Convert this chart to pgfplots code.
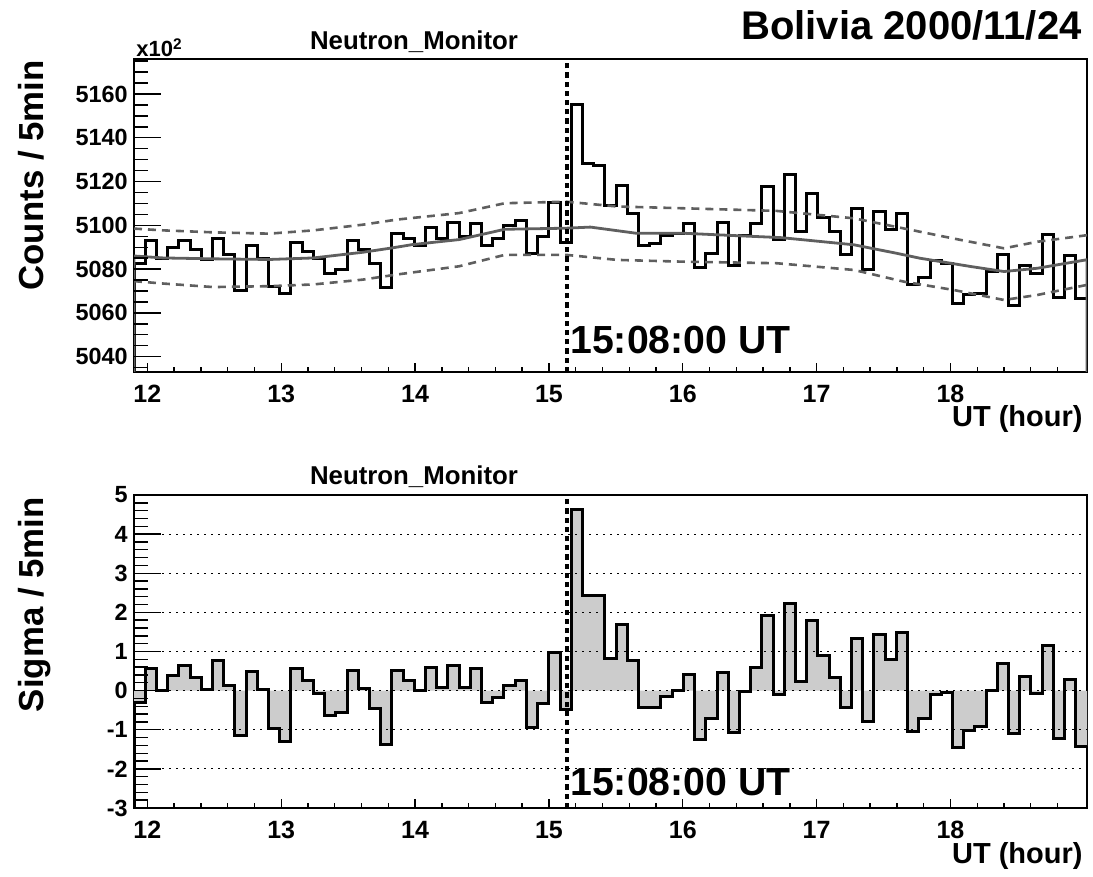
\documentclass[border=0pt]{standalone}
\usepackage{pgfplots}
\pgfplotsset{compat=1.18}
\usepackage{pgfplotstable}
\usepackage{fontspec}
\setmainfont{Liberation Sans}
\definecolor{meangray}{RGB}{95,95,95}
\definecolor{fillgray}{RGB}{204,204,204}
\newcommand\fs[1]{\fontsize{#1}{#1}\selectfont\bfseries}
\def\bw{0.083765}

\pgfplotstableread{
k v
0 5033
0 5082.4
1 5093.2
2 5084.8
3 5089.7
4 5093.2
5 5088.9
6 5084.4
7 5094.2
8 5086.6
9 5070.2
10 5090.7
11 5084.8
12 5072.2
13 5068.9
14 5092.0
15 5088.2
16 5084.8
17 5077.8
18 5079.8
19 5093.0
20 5088.9
21 5082.4
22 5071.5
23 5096.1
24 5093.9
25 5090.7
26 5099.1
27 5093.8
28 5101.2
29 5094.9
30 5101.0
31 5090.6
32 5093.8
33 5099.9
34 5102.2
35 5087.2
36 5094.9
37 5110.5
38 5092.1
39 5155.3
40 5128.3
41 5127.3
42 5109.0
43 5118.4
44 5105.5
45 5090.7
46 5091.5
47 5095.3
48 5096.1
49 5101.0
50 5080.9
51 5087.2
52 5101.2
53 5081.5
54 5095.3
55 5101.0
56 5117.8
57 5093.6
58 5123.0
59 5097.1
60 5114.6
61 5103.5
62 5097.1
63 5086.5
64 5107.8
65 5079.9
66 5106.3
67 5097.9
68 5105.2
69 5072.8
70 5076.3
71 5083.9
72 5082.4
73 5064.4
74 5068.6
75 5069.0
76 5078.9
77 5086.5
78 5063.3
79 5081.8
80 5078.0
81 5096.0
82 5067.2
83 5086.1
84 5066.7
85 5066.7
85 5033
}\topdata

\pgfplotstableread{
k v
0 0
0 -0.30
1 0.56
2 0.00
3 0.39
4 0.65
5 0.33
6 0.02
7 0.78
8 0.14
9 -1.14
10 0.48
11 0.03
12 -0.97
13 -1.31
14 0.57
15 0.25
16 -0.07
17 -0.63
18 -0.56
19 0.52
20 0.06
21 -0.46
22 -1.38
23 0.52
24 0.25
25 0.00
26 0.59
27 0.09
28 0.65
29 0.09
30 0.57
31 -0.31
32 -0.18
33 0.14
34 0.27
35 -0.94
36 -0.32
37 0.98
38 -0.47
39 4.63
40 2.43
41 2.42
42 0.82
43 1.70
44 0.78
45 -0.44
46 -0.43
47 -0.14
48 0.01
49 0.41
50 -1.25
51 -0.71
52 0.47
53 -1.06
54 -0.03
55 0.60
56 1.92
57 -0.10
58 2.23
59 0.23
60 1.80
61 0.89
62 0.33
63 -0.43
64 1.34
65 -0.79
66 1.44
67 0.79
68 1.49
69 -1.05
70 -0.71
71 -0.10
72 -0.05
73 -1.45
74 -1.01
75 -0.91
76 0.00
77 0.70
78 -1.10
79 0.36
80 -0.08
81 1.15
82 -1.23
83 0.29
84 -1.42
85 -1.42
85 0
}\sigfill

\pgfplotstableread{
k v
0 -3
0 -0.30
1 0.56
2 0.00
3 0.39
4 0.65
5 0.33
6 0.02
7 0.78
8 0.14
9 -1.14
10 0.48
11 0.03
12 -0.97
13 -1.31
14 0.57
15 0.25
16 -0.07
17 -0.63
18 -0.56
19 0.52
20 0.06
21 -0.46
22 -1.38
23 0.52
24 0.25
25 0.00
26 0.59
27 0.09
28 0.65
29 0.09
30 0.57
31 -0.31
32 -0.18
33 0.14
34 0.27
35 -0.94
36 -0.32
37 0.98
38 -0.47
39 4.63
40 2.43
41 2.42
42 0.82
43 1.70
44 0.78
45 -0.44
46 -0.43
47 -0.14
48 0.01
49 0.41
50 -1.25
51 -0.71
52 0.47
53 -1.06
54 -0.03
55 0.60
56 1.92
57 -0.10
58 2.23
59 0.23
60 1.80
61 0.89
62 0.33
63 -0.43
64 1.34
65 -0.79
66 1.44
67 0.79
68 1.49
69 -1.05
70 -0.71
71 -0.10
72 -0.05
73 -1.45
74 -1.01
75 -0.91
76 0.00
77 0.70
78 -1.10
79 0.36
80 -0.08
81 1.15
82 -1.23
83 0.29
84 -1.42
85 -1.42
85 -3
}\sigline

\pgfplotsset{
  rootbase/.style={
    scale only axis, width=476.5pt, height=156.5pt,
    xmin=11.9, xmax=19.02,
    tick align=inside, xtick pos=left, ytick pos=left,
    every tick/.style={black, line width=0.7pt},
  },
  rootx/.style={
    rootbase,
    axis line style={line width=0.7pt},
    xtick={12,13,14,15,16,17,18},
    xticklabels={12,13,14,15,16,17,18},
    minor xtick={12.2,12.4,12.6,12.8,13.2,13.4,13.6,13.8,14.2,14.4,14.6,14.8,15.2,15.4,15.6,15.8,16.2,16.4,16.6,16.8,17.2,17.4,17.6,17.8,18.2,18.4,18.6,18.8},
    major tick length=4.5pt, minor tick length=2.3pt,
    xticklabel style={font=\fs{12.5}, anchor=base, yshift=-15.5pt, inner sep=0pt},
    ytick=\empty,
  },
  rooty/.style={
    rootbase,
    axis line style={draw=none},
    xtick=\empty,
    major tick length=13.5pt, minor tick length=6.8pt,
    yticklabel style={font=\fs{11.7}, anchor=east, xshift=-3pt, inner sep=0pt},
  },
  hist/.style={const plot mark left, black, line width=1.5pt, mark=none},
  marker/.style={black, line width=2pt, dash pattern=on 2.6pt off 2pt},
}

\begin{document}
\begin{tikzpicture}[x=1pt,y=1pt]
\path[use as bounding box] (0,0) rectangle (546.5,438.5);

% ---------- top panel ----------
\begin{axis}[rootx, at={(67pt,252.5pt)}, anchor=south west,
  ymin=5033, ymax=5176,
]
\addplot[hist] table[x expr=11.9+\thisrow{k}*\bw, y=v] {\topdata};
\addplot[meangray, line width=1.4pt] coordinates {(11.9,5033) (11.9,5086.0) (12.12,5085.1) (12.49,5084.7) (12.91,5084.4) (13.24,5085.1) (13.61,5087.7) (13.83,5089.7) (13.98,5091.2) (14.33,5093.5) (14.67,5098.2) (15.13,5098.7) (15.31,5099.2) (15.65,5096.4) (16.0,5096.4) (16.43,5095.2) (16.73,5094.4) (16.90,5093.4) (17.28,5091.1) (17.60,5087.2) (17.77,5085.0) (18.15,5081.2) (18.40,5078.9) (18.65,5080.4) (19.02,5084.3) (19.02,5033)};
\addplot[meangray, line width=1.3pt, dash pattern=on 4pt off 3pt] coordinates {(11.9,5098.5) (12.12,5097.7) (12.49,5096.8) (12.91,5096.2) (13.24,5097.7) (13.61,5100.3) (13.86,5102.6) (14.33,5105.6) (14.67,5110.1) (15.13,5110.8) (15.51,5108.6) (16.0,5107.8) (16.7,5106.6) (17.28,5103.2) (17.65,5098.6) (18.02,5094.0) (18.40,5089.5) (18.65,5092.5) (19.02,5095.5)};
\addplot[meangray, line width=1.3pt, dash pattern=on 4pt off 3pt] coordinates {(11.9,5074.5) (12.12,5073.4) (12.49,5071.8) (12.91,5072.2) (13.24,5073.0) (13.61,5075.2) (13.86,5077.5) (14.33,5081.3) (14.67,5086.5) (15.13,5086.5) (15.51,5084.2) (16.0,5083.4) (16.7,5082.7) (17.28,5079.6) (17.65,5074.3) (18.02,5070.5) (18.40,5065.9) (18.65,5068.2) (19.02,5072.8)};
\addplot[marker] coordinates {(15.1333,5033) (15.1333,5176)};
\end{axis}
\begin{axis}[rooty, at={(67pt,252.5pt)}, anchor=south west,
  ymin=5033, ymax=5176,
  ytick={5040,5060,5080,5100,5120,5140,5160},
  yticklabels={5040,5060,5080,5100,5120,5140,5160},
  minor ytick={5035,5045,5050,5055,5065,5070,5075,5085,5090,5095,5105,5110,5115,5125,5130,5135,5145,5150,5155,5165,5170,5175},
]
\end{axis}

% ---------- bottom panel ----------
\begin{axis}[rootx, at={(67pt,34.5pt)}, anchor=south west,
  ymin=-3, ymax=5,
]
\addplot[const plot mark left, fill=fillgray, draw=none] table[x expr=11.9+\thisrow{k}*\bw, y=v] {\sigfill};
\addplot[hist] table[x expr=11.9+\thisrow{k}*\bw, y=v] {\sigline};
\addplot[marker] coordinates {(15.1333,-3) (15.1333,5)};
\end{axis}
\begin{axis}[rooty, at={(67pt,34.5pt)}, anchor=south west,
  ymin=-3, ymax=5,
  ytick={-3,-2,-1,0,1,2,3,4,5},
  yticklabels={-3,-2,-1,0,1,2,3,4,5},
  minor y tick num=4,
  ymajorgrids, major grid style={black, line width=0.6pt, dash pattern=on 0.9pt off 2.6pt},
]
\end{axis}

% ---------- texts ----------
\node[anchor=base east, font=\fs{20}, inner sep=0pt] at (541,418.5) {Bolivia 2000/11/24};
\node[anchor=base, font=\fs{12.9}, inner sep=0pt] at (207,413.5) {Neutron\_Monitor};
\node[anchor=base, font=\fs{12.9}, inner sep=0pt] at (207,196) {Neutron\_Monitor};
\node[anchor=base west, font=\fs{11}, inner sep=0pt] at (68,410) {x10\textsuperscript{2}};
\node[anchor=base east, rotate=90, font=\fs{17.4}, inner sep=0pt] at (21.5,408.5) {Counts / 5min};
\node[anchor=base east, rotate=90, font=\fs{17.4}, inner sep=0pt] at (21.5,190) {Sigma / 5min};
\node[anchor=base east, font=\fs{14.5}, inner sep=0pt] at (541.5,225) {UT (hour)};
\node[anchor=base east, font=\fs{14.5}, inner sep=0pt] at (541.5,6.5) {UT (hour)};
\node[anchor=base west, font=\fs{19.6}, inner sep=0pt] at (285,261.5) {15:08:00 UT};
\node[anchor=base west, font=\fs{19.6}, inner sep=0pt] at (285,40.5) {15:08:00 UT};
\end{tikzpicture}
\end{document}
